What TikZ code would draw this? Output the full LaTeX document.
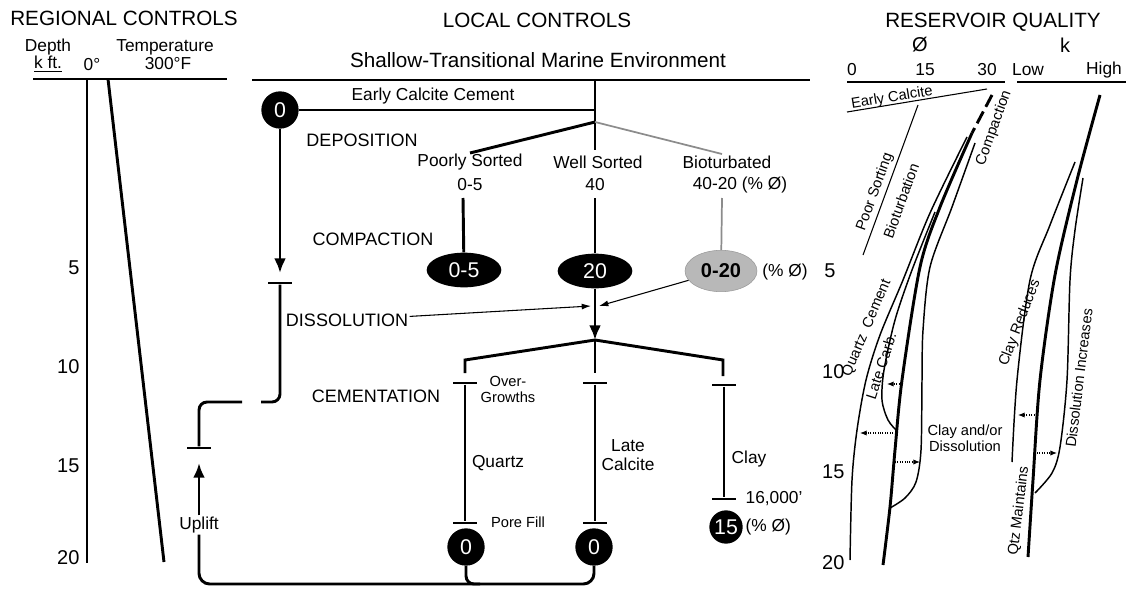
\documentclass[tikz,border=0pt]{standalone}
\usepackage{fontspec}
\setmainfont{Liberation Sans}
\usetikzlibrary{arrows.meta,shapes.geometric}

\tikzset{
  head/.style={font=\fontsize{15.5}{17}\selectfont},
  txt/.style={font=\fontsize{13}{14.5}\selectfont, inner sep=1pt},
  stage/.style={font=\fontsize{13.5}{15}\selectfont, inner sep=1pt},
  small/.style={font=\fontsize{11}{12}\selectfont, inner sep=0pt},
  depthlbl/.style={font=\fontsize{15}{16}\selectfont, anchor=east, inner sep=1pt},
  flow/.style={line width=2.2pt},
  fine/.style={line width=0.8pt},
  curve/.style={line width=1.1pt},
  maincurve/.style={line width=2.2pt},
  bigtip/.style={-{Latex[length=11pt,width=9pt]}},
  thintip/.style={-{Latex[length=7pt,width=4.5pt]}},
  hint/.style={line width=0.8pt, densely dotted, -{Latex[length=5pt,width=4pt]}},
  tbar/.style={fill=black, minimum width=18.5pt, minimum height=2.2pt, inner sep=0pt},
  dot/.style={circle, fill=black, text=white, minimum size=28pt, inner sep=0pt,
    font=\fontsize{16}{17}\selectfont},
  blob/.style={ellipse, fill=black, text=white, minimum width=56pt, minimum height=26pt,
    inner sep=0pt, font=\fontsize{16}{17}\selectfont},
  greyblob/.style={ellipse, fill=black!28, draw=black!40, minimum width=54pt,
    minimum height=31pt, inner sep=0pt, font=\bfseries\fontsize{15}{17}\selectfont},
  greyline/.style={line width=1.3pt, black!45}
}

\begin{document}
\begin{tikzpicture}[x=0.75pt,y=-0.75pt]
\useasboundingbox (0,0) rectangle (1126,588);

% ---- regional controls
\node[head] (reg) at (124,18) {REGIONAL CONTROLS};
\node[txt] (dep) at (48,47) {Depth};
\node[txt] (kft) at (48,64) {\underline{k ft.}};
\node[txt] (tzero) at (92,65) {0°};
\node[txt] (temp) at (165,47) {Temperature};
\node[txt] (thot) at (168,64) {300°F};
\draw[flow] (33,79) -- (227,79);
\draw[flow] (87,79) -- (87,563);
\draw[flow] (108,79) -- (164,562);
\node[depthlbl] (d5) at (81,268) {5};
\node[depthlbl] (d10) at (81,367) {10};
\node[depthlbl] (d15) at (81,466) {15};
\node[depthlbl] (d20) at (81,558) {20};

% ---- local controls
\node[head] (loc) at (537,20) {LOCAL CONTROLS};
\node[head] (env) at (538,60) {Shallow-Transitional Marine Environment};
\draw[flow] (252,80) -- (810,80);
\coordinate (top) at (595,80);
\coordinate (early) at (595,110);
\coordinate (split) at (595,122);
\draw[flow] (top) -- (595,150);

\node[dot] (ecc) at (280,110) {0};
\draw[flow] (ecc) -- (early);
\node[txt] (ecclbl) at (433,96) {Early Calcite Cement};
\node[stage] (depo) at (362,140) {DEPOSITION};

\node[txt] (poor) at (470,162) {Poorly Sorted};
\node[txt] (poorv) at (470,185) {0-5};
\node[txt] (well) at (598,162) {Well Sorted};
\node[txt] (wellv) at (595,185) {40};
\node[txt] (bio) at (727,162) {Bioturbated};
\node[txt] (biov) at (740,185) {40-20 (\% Ø)};
\draw[flow] (split) -- (470,153);
\draw[greyline] (split) -- (722,154);

% compaction
\node[stage] (comp) at (373,239) {COMPACTION};
\node[blob] (poorc) at (464,270) {0-5};
\node[blob] (wellc) at (595,271) {20};
\node[greyblob] (bioc) at (721,271) {0-20};
\node[txt] (bioclbl) at (785,272) {(\% Ø)};
\draw[flow] (463,198) -- (poorc);
\draw[flow] (595,198) -- (wellc);
\draw[greyline] (722,198) -- (bioc);

% dissolution
\coordinate (diss) at (595,306);
\coordinate (fork) at (595,340);
\node[stage] (dissl) at (347,320) {DISSOLUTION};
\draw[fine,thintip] (dissl) -- ([xshift=-3pt]diss);
\draw[fine,thintip] (bioc) -- ([xshift=3pt]diss);
\draw[flow,bigtip] (wellc) -- (fork);

% cementation
\node[stage] (cem) at (376,396) {CEMENTATION};
\node[tbar] (qtop) at (465,383) {};
\node[tbar] (qbot) at (465,523) {};
\node[dot] (qdot) at (466,547) {0};
\node[tbar] (ctop) at (595,383) {};
\node[tbar] (cbot) at (595,523) {};
\node[dot] (cdot) at (594,547) {0};
\node[tbar] (ytop) at (724,385) {};
\node[tbar] (ybot) at (724,499) {};
\node[dot, minimum size=25pt] (ydot) at (726,527) {15};
\draw[flow] (fork) -- (465,360) -- (465,373);
\draw[flow] (fork) -- (595,373);
\draw[flow] (fork) -- (723,360) -- (723,376);
\draw[flow] (qtop) -- (qbot);
\draw[flow] (ctop) -- (cbot);
\draw[flow] (ytop) -- (ybot);
\node[small, align=center] (over) at (508,389) {Over-\\Growths};
\node[txt] (qtz) at (498,463) {Quartz};
\node[small] (pore) at (518,522) {Pore Fill};
\node[txt, align=center] (latec) at (628,455) {Late\\Calcite};
\node[txt] (clay) at (749,459) {Clay};
\node[txt, anchor=west] (clayd) at (744,499) {16,000'};
\node[txt, anchor=west] (clayp) at (744,527) {(\% Ø)};

% burial and uplift
\node[tbar] (dtop) at (280,283) {};
\node[tbar] (utop) at (199,448) {};
\node[txt] (upl) at (199,525) {Uplift};
\draw[flow,bigtip] (ecc) -- (280,273);
\draw[flow, rounded corners=6pt] (dtop) -- (280,402) -- (261,402);
\draw[flow, rounded corners=6pt] (242,402) -- (199,402) -- (utop);
\draw[flow,bigtip, shorten >=10pt] (upl) -- (utop);
\draw[flow, rounded corners=8pt] (upl) -- (199,584) -- (594,584) -- (cdot);
\draw[flow, rounded corners=6pt] (qdot) -- (466,584) -- (480,584);

% ---- reservoir quality
\node[head] (res) at (993,22) {RESERVOIR QUALITY};
\node[font=\fontsize{15}{16}\selectfont] (phi) at (920,45) {Ø};
\node[font=\fontsize{15}{16}\selectfont] (perm) at (1065,45) {k};
\node[txt] (p0) at (852,70) {0};
\node[txt] (p15) at (925,70) {15};
\node[txt] (p30) at (987,70) {30};
\node[txt] (klow) at (1028,70) {Low};
\node[txt] (khigh) at (1104,70) {High};
\draw[flow] (847,82) -- (1005,82);
\draw[flow] (1017,82) -- (1126,82);
\node[depthlbl] (r5) at (837,271) {5};
\node[depthlbl] (r10) at (846,372) {10};
\node[depthlbl] (r15) at (846,472) {15};
\node[depthlbl] (r20) at (846,563) {20};

% porosity trends
\draw[fine] (847,112) -- (987,89);
\node[small, rotate=9.3] (ecal) at (892,98) {Early Calcite};
\draw[fine] (918,105) -- (863,255);
\node[small, rotate=70] (psort) at (875,192) {Poor Sorting};
\node[small, rotate=70] (bturb) at (901,201) {Bioturbation};
\draw[maincurve, dash pattern=on 10pt off 4pt] (992,95) -- (972,133);
\draw[maincurve] plot[smooth] coordinates {(972,133) (940,207) (920,267) (902,380) (895,450) (890,507) (883,565)};
\draw[curve] plot[smooth] coordinates {(967,137) (930,213) (903,280) (880,335) (866,380) (857,430) (852,480) (850,560)};
\draw[curve] plot[smooth] coordinates {(935,212) (912,270) (895,320) (884,370) (882,400) (888,420) (897,431)};
\draw[curve] plot[smooth] coordinates {(975,143) (952,207) (930,267) (923,330) (922,380) (921,450) (916,482) (905,498) (890,508)};
\draw[hint] (902,384) -- (887,384);
\draw[hint] (893,433) -- (860,433);
\draw[hint] (895,462) -- (920,462);
\node[small, rotate=70] (cmp) at (994,128) {Compaction};
\node[small, rotate=67] (qcem) at (867,328) {Quartz\ \ Cement};
\node[small, rotate=72] (lcarb) at (881,366) {Late Carb.};
\node[small, align=center] (cdis) at (965,438) {Clay and/or\\Dissolution};

% permeability trends
\draw[maincurve] plot[smooth] coordinates {(1100,95) (1077,180) (1055,275) (1040,380) (1033,480) (1028,557)};
\draw[curve] plot[smooth] coordinates {(1075,162) (1050,225) (1030,280) (1017,380) (1012,462)};
\draw[curve] plot[smooth] coordinates {(1083,178) (1075,230) (1070,280) (1067,380) (1060,447) (1052,473) (1035,493)};
\draw[hint] (1037,415) -- (1018,415);
\draw[hint] (1037,453) -- (1057,453);
\node[small, rotate=69] (clred) at (1020,323) {Clay Reduces};
\node[small, rotate=83] (disinc) at (1079,378) {Dissolution Increases};
\node[small, rotate=83] (qmain) at (1019,511) {Qtz Maintains};
\end{tikzpicture}
\end{document}
